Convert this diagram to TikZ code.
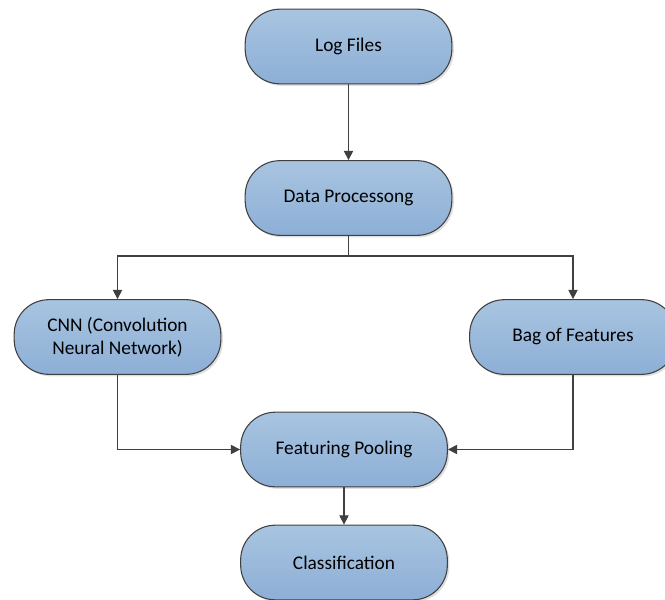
\documentclass[tikz,border=0pt]{standalone}
\usepackage{fontspec}
\setmainfont{Carlito}
\usetikzlibrary{arrows.meta,shadows}

\definecolor{boxtop}{RGB}{168,196,224}
\definecolor{boxbot}{RGB}{141,175,214}
\definecolor{edge}{RGB}{64,64,64}

\tikzset{
  flowbox/.style={draw=edge, line width=0.8pt, rounded corners=26pt,
    top color=boxtop, bottom color=boxbot,
    drop shadow={shadow xshift=1.5pt, shadow yshift=-1.5pt, opacity=0.25},
    minimum width=155pt, minimum height=56pt, align=center,
    font=\fontsize{14.5}{17.5}\selectfont},
  flowline/.style={draw=edge, line width=0.8pt, -{Triangle[length=7pt,width=7pt]}}
}

\begin{document}
\begin{tikzpicture}[x=0.75pt,y=0.75pt,yscale=-1,xscale=1]
%set diagram from (0,0) to (665,600)
\clip (0,0) rectangle (665,600);

% Boxes
\node [flowbox] (logs) at (348.5,46.5) {Log Files};
\node [flowbox] (proc) at (348.5,198) {Data Processong};
\node [flowbox] (cnn) at (117.5,337) {CNN (Convolution\\Neural Network)};
\node [flowbox] (bag) at (573,337) {Bag of Features};
\node [flowbox] (pool) at (344,449.5) {Featuring Pooling};
\node [flowbox] (cls) at (344,562.5) {Classification};

% split point under Data Processong
\coordinate (split) at (348.5,256);

% Connectors
\draw [flowline] (logs) -- (proc);
\draw [draw=edge, line width=0.8pt] (proc) -- (split);
\draw [flowline] (split) -| (cnn.north);
\draw [flowline] (split) -| (bag.north);
\draw [flowline] (cnn.south) |- (pool.west);
\draw [flowline] (bag.south) |- (pool.east);
\draw [flowline] (pool) -- (cls);

\end{tikzpicture}
\end{document}
